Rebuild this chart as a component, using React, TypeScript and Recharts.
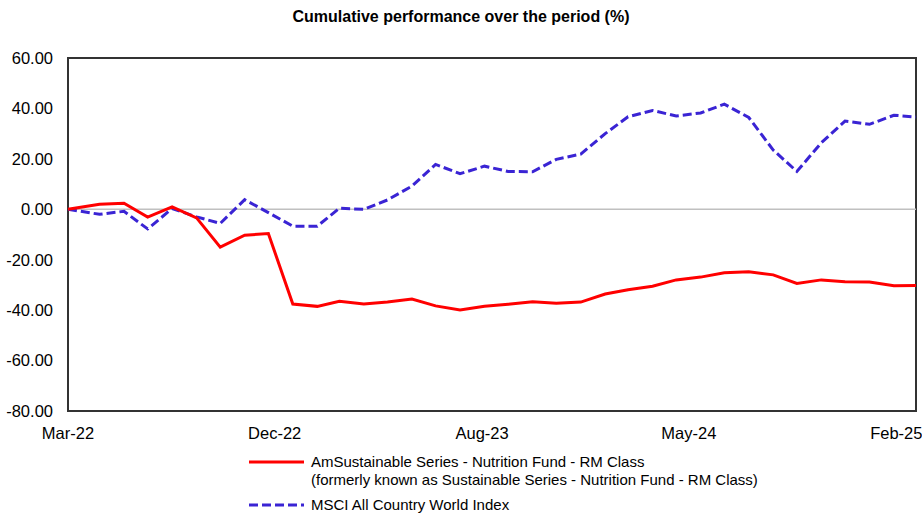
import { LineChart, Line, XAxis, YAxis, ReferenceLine, ReferenceArea } from "recharts";

// first point is the start date, then month-end NAV dates
const DATES = [
  "2022-03-21", "2022-04-30", "2022-05-31", "2022-06-30", "2022-07-31", "2022-08-31",
  "2022-09-30", "2022-10-31", "2022-11-30", "2022-12-31", "2023-01-31", "2023-02-28",
  "2023-03-31", "2023-04-30", "2023-05-31", "2023-06-30", "2023-07-31", "2023-08-31",
  "2023-09-30", "2023-10-31", "2023-11-30", "2023-12-31", "2024-01-31", "2024-02-29",
  "2024-03-31", "2024-04-30", "2024-05-31", "2024-06-30", "2024-07-31", "2024-08-31",
  "2024-09-30", "2024-10-31", "2024-11-30", "2024-12-31", "2025-01-31", "2025-02-28",
];

const FUND = [
  0, 2.0, 2.4, -3.1, 1.0, -3.4, -15.0, -10.3, -9.6, -37.6, -38.5, -36.5,
  -37.6, -36.8, -35.6, -38.3, -39.9, -38.5, -37.7, -36.7, -37.3, -36.8, -33.6, -31.9,
  -30.5, -28.0, -26.9, -25.2, -24.8, -26.0, -29.4, -28.0, -28.7, -28.8, -30.3, -30.2,
];

const MSCI = [
  0, -2.0, -0.8, -7.8, 0.3, -3.0, -5.6, 3.8, -1.3, -6.7, -6.7, 0.4,
  0.0, 3.7, 9.2, 17.8, 14.1, 17.1, 15.0, 14.9, 19.8, 21.9, 30.0, 36.7,
  39.2, 37.0, 38.2, 41.7, 36.4, 23.5, 15.0, 26.4, 35.0, 33.7, 37.3, 36.6,
];

const Y_TICKS = [-80, -60, -40, -20, 0, 20, 40, 60];
const X_TICK_DATES = ["2022-03-21", "2022-12-08", "2023-08-28", "2024-05-16", "2025-02-03"];
const MONTHS = ["Jan", "Feb", "Mar", "Apr", "May", "Jun", "Jul", "Aug", "Sep", "Oct", "Nov", "Dec"];

const TITLE = "Cumulative performance over the period (%)";
const FUND_NAME = "AmSustainable Series - Nutrition Fund - RM Class";
const FUND_NOTE = "(formerly known as Sustainable Series - Nutrition Fund - RM Class)";
const INDEX_NAME = "MSCI All Country World Index";

const RED = "#ff0000";
const BLUE = "#3a24d4";
const FONT = '"Liberation Sans", Arial, sans-serif';

const toDay = (s: string) => Date.parse(s + "T00:00:00Z") / 86400000;

const formatMonth = (day: number) => {
  const d = new Date(Math.round(day) * 86400000);
  return `${MONTHS[d.getUTCMonth()]}-${String(d.getUTCFullYear()).slice(2)}`;
};

const data = DATES.map((d, i) => ({ t: toDay(d), fund: FUND[i], msci: MSCI[i] }));
const xTicks = X_TICK_DATES.map(toDay);
const tFirst = data[0].t;
const tLast = data[data.length - 1].t;

function LegendSwatch({ color, dashed }: { color: string; dashed?: boolean }) {
  return (
    <svg width={55} height={18} style={{ display: "block", flex: "none" }}>
      <line
        x1={0}
        x2={55}
        y1={9}
        y2={9}
        stroke={color}
        strokeWidth={3}
        strokeDasharray={dashed ? "9 4" : undefined}
      />
    </svg>
  );
}

export default function App() {
  return (
    <div
      style={{
        position: "absolute",
        left: 0,
        top: 0,
        width: 922,
        height: 515,
        background: "#fff",
        fontFamily: FONT,
        color: "#000",
      }}
    >
      <div
        style={{
          position: "absolute",
          top: 8,
          left: 0,
          width: 922,
          textAlign: "center",
          fontSize: 16,
          fontWeight: 700,
          lineHeight: "18px",
        }}
      >
        {TITLE}
      </div>

      <LineChart width={922} height={515} data={data} margin={{ top: 58, right: 6, left: 0, bottom: 74 }}>
        <XAxis
          type="number"
          dataKey="t"
          domain={[tFirst, tLast]}
          ticks={xTicks}
          interval={0}
          tickFormatter={formatMonth}
          axisLine={false}
          tickLine={false}
          tickSize={14}
          tickMargin={2}
          height={30}
          tick={{ fontSize: 16.5, fill: "#000", fontFamily: FONT }}
        />
        <YAxis
          type="number"
          domain={[-80, 60]}
          ticks={Y_TICKS}
          interval={0}
          tickFormatter={(v: number) => v.toFixed(2)}
          axisLine={false}
          tickLine={false}
          tickSize={13}
          tickMargin={2}
          width={68}
          tick={{ fontSize: 16.5, fill: "#000", fontFamily: FONT }}
        />
        <ReferenceLine y={0} stroke="#c0c0c0" strokeWidth={1.5} />
        <Line
          type="linear"
          dataKey="msci"
          stroke={BLUE}
          strokeWidth={3}
          strokeDasharray="9 4"
          dot={false}
          activeDot={false}
          isAnimationActive={false}
        />
        <Line
          type="linear"
          dataKey="fund"
          stroke={RED}
          strokeWidth={3}
          dot={false}
          activeDot={false}
          isAnimationActive={false}
        />
        <ReferenceArea
          x1={tFirst}
          x2={tLast}
          y1={-80}
          y2={60}
          fill="none"
          fillOpacity={0}
          stroke="#333"
          strokeWidth={2}
        />
      </LineChart>

      <div style={{ position: "absolute", left: 249, top: 453, fontSize: 15, lineHeight: "18px" }}>
        <div style={{ display: "flex", alignItems: "flex-start" }}>
          <LegendSwatch color={RED} />
          <div style={{ marginLeft: 7, whiteSpace: "nowrap" }}>
            <div>{FUND_NAME}</div>
            <div>{FUND_NOTE}</div>
          </div>
        </div>
        <div style={{ display: "flex", alignItems: "flex-start", marginTop: 7 }}>
          <LegendSwatch color={BLUE} dashed />
          <div style={{ marginLeft: 7, whiteSpace: "nowrap" }}>{INDEX_NAME}</div>
        </div>
      </div>
    </div>
  );
}
